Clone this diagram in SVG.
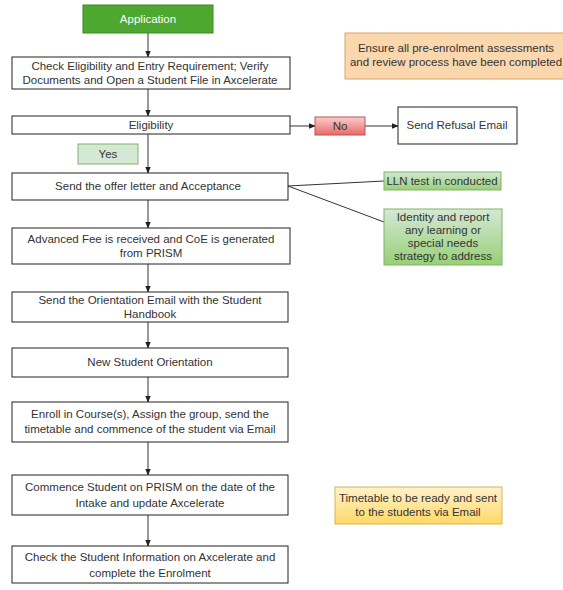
<svg xmlns="http://www.w3.org/2000/svg" width="563" height="590" viewBox="0 0 563 590">
<defs>
<marker id="ah" viewBox="0 0 10 10" refX="9" refY="5" markerWidth="7" markerHeight="7" orient="auto"><path d="M0,1 L10,5 L0,9 Z" fill="#222"/></marker>
<linearGradient id="gGreen" x1="0" y1="0" x2="0" y2="1"><stop offset="0" stop-color="#d5e8d4"/><stop offset="1" stop-color="#97d077"/></linearGradient>
<linearGradient id="gRed" x1="0" y1="0" x2="0" y2="1"><stop offset="0" stop-color="#f8cecc"/><stop offset="1" stop-color="#e86a66"/></linearGradient>
<linearGradient id="gYellow" x1="0" y1="0" x2="0" y2="1"><stop offset="0" stop-color="#fff2cc"/><stop offset="1" stop-color="#ffd966"/></linearGradient>
</defs>
<style>
text{font-family:"Liberation Sans",Arial,sans-serif;font-size:11.5px;fill:#333;text-anchor:middle}
.box{fill:#fff;stroke:#222;stroke-width:1}
.c{stroke:#333;stroke-width:1;fill:none}
.a{marker-end:url(#ah)}
</style>
<rect width="563" height="590" fill="#fff"/>
<g id="connectors">
<line class="c a" x1="148" y1="33" x2="148" y2="57"/>
<line class="c a" x1="148" y1="89" x2="148" y2="116"/>
<line class="c a" x1="290" y1="126" x2="315" y2="126"/>
<line class="c a" x1="365" y1="126" x2="398" y2="126"/>
<line class="c a" x1="148" y1="134" x2="148" y2="173"/>
<line class="c" x1="288" y1="186" x2="384" y2="181"/>
<line class="c" x1="288" y1="186" x2="384" y2="222"/>
<line class="c a" x1="148" y1="200" x2="148" y2="228"/>
<line class="c a" x1="148" y1="264" x2="148" y2="292"/>
<line class="c a" x1="148" y1="322" x2="148" y2="348"/>
<line class="c a" x1="148" y1="377" x2="148" y2="402"/>
<line class="c a" x1="148" y1="442" x2="148" y2="475"/>
<line class="c a" x1="148" y1="515" x2="148" y2="546"/>
</g>
<g id="application"><rect x="83" y="5" width="130" height="28" fill="#4ea72e" stroke="#3d8a22"/><text x="148" y="23" style="fill:#fff">Application</text></g>
<g id="check"><rect class="box" x="12" y="57" width="278" height="32"/><text x="150" y="70">Check Eligibility and Entry Requirement; Verify</text><text x="150" y="84">Documents and Open a Student File in Axcelerate</text></g>
<g id="note-pre"><rect x="345" y="33" width="222" height="46" fill="#fad7ac" stroke="#d9a56a"/><text x="456" y="52">Ensure all pre-enrolment assessments</text><text x="456" y="66">and review process have been completed</text></g>
<g id="eligibility"><rect class="box" x="12" y="116" width="278" height="18"/><text x="151" y="129">Eligibility</text></g>
<g id="no"><rect x="315" y="117" width="50" height="18" fill="url(#gRed)" stroke="#b85450"/><text x="340" y="130">No</text></g>
<g id="refusal"><rect class="box" x="398" y="107" width="119" height="37"/><text x="457" y="129">Send Refusal Email</text></g>
<g id="yes"><rect x="78" y="144" width="60" height="20" fill="#d5e8d4" stroke="#82b366"/><text x="108" y="158">Yes</text></g>
<g id="offer"><rect class="box" x="12" y="173" width="276" height="27"/><text x="148" y="190">Send the offer letter and Acceptance</text></g>
<g id="lln"><rect x="384" y="172" width="117" height="18" fill="url(#gGreen)" stroke="#82b366"/><text x="442" y="185">LLN test in conducted</text></g>
<g id="identify"><rect x="384" y="209" width="118" height="56" fill="url(#gGreen)" stroke="#82b366"/><text x="443" y="221">Identity and report</text><text x="443" y="234">any learning or</text><text x="443" y="247">special needs</text><text x="443" y="260">strategy to address</text></g>
<g id="fee"><rect class="box" x="12" y="228" width="278" height="36"/><text x="151" y="243">Advanced Fee is received and CoE is generated</text><text x="151" y="257">from PRISM</text></g>
<g id="orient-email"><rect class="box" x="12" y="292" width="276" height="30"/><text x="150" y="304">Send the Orientation Email with the Student</text><text x="150" y="318">Handbook</text></g>
<g id="orientation"><rect class="box" x="12" y="348" width="276" height="29"/><text x="150" y="366">New Student Orientation</text></g>
<g id="enroll"><rect class="box" x="12" y="402" width="276" height="40"/><text x="150" y="418">Enroll in Course(s), Assign the group, send the</text><text x="150" y="433">timetable and commence of the student via Email</text></g>
<g id="commence"><rect class="box" x="12" y="475" width="276" height="40"/><text x="150" y="491">Commence Student on PRISM on the date of the</text><text x="150" y="507">Intake and update Axcelerate</text></g>
<g id="timetable"><rect x="335" y="487" width="167" height="37" fill="url(#gYellow)" stroke="#d6b656"/><text x="418" y="502">Timetable to be ready and sent</text><text x="418" y="516">to the students via Email</text></g>
<g id="final"><rect class="box" x="12" y="546" width="276" height="37"/><text x="150" y="561">Check the Student Information on Axcelerate and</text><text x="150" y="577">complete the Enrolment</text></g>
</svg>
